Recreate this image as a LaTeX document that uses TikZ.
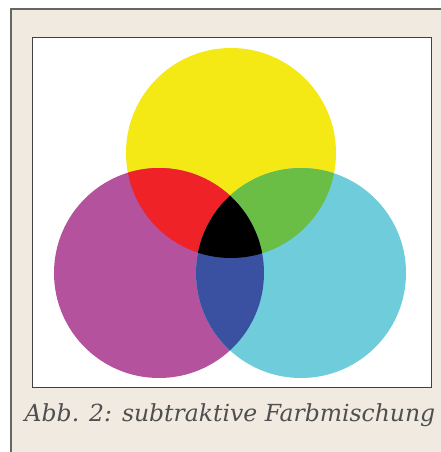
\documentclass[tikz,border=0pt]{standalone}
\usepackage{fontspec}
\setmainfont{DejaVu Serif}
\definecolor{papier}{HTML}{F0EAE1}
\definecolor{gelb}{HTML}{F4E815}
\definecolor{magenta}{HTML}{B5529E}
\definecolor{cyan}{HTML}{6ECCDB}
\definecolor{rot}{HTML}{EE2227}
\definecolor{gruen}{HTML}{6ABD45}
\definecolor{blau}{HTML}{3A50A1}
\definecolor{schrift}{HTML}{4F4F4F}
\tikzset{
  rahmen/.style={draw=black!60, line width=1.3pt},
  feld/.style={draw=black!75, fill=white, line width=0.9pt},
  kreis/.style={radius=105},
  unterschrift/.style={anchor=base, text=schrift, font=\itshape\fontsize{23.5}{26}\selectfont, inner sep=0pt},
}

\begin{document}
\begin{tikzpicture}[x=1pt,y=-1pt]
  \useasboundingbox (0,0) rectangle (441,452);
  % Hintergrund
  \fill[papier] (11,9) rectangle (441,452);
  \draw[rahmen] (11,452) -- (11,9) -- (441,9);
  \draw[feld] (32,37) rectangle (431,387);
  % Mittelpunkte der Farbkreise
  \coordinate (Y) at (231,153);
  \coordinate (M) at (159,273);
  \coordinate (C) at (301,273);
  \fill[gelb, kreis] (Y) circle[];
  \fill[magenta, kreis] (M) circle[];
  \fill[cyan, kreis] (C) circle[];
  % Mischfarben
  \begin{scope}
    \clip[kreis] (Y) circle[];
    \fill[rot, kreis] (M) circle[];
    \fill[gruen, kreis] (C) circle[];
  \end{scope}
  \begin{scope}
    \clip[kreis] (M) circle[];
    \fill[blau, kreis] (C) circle[];
    \clip[kreis] (Y) circle[];
    \fill[black, kreis] (C) circle[];
  \end{scope}
  \node[unterschrift] (caption) at (230,421) {Abb. 2: subtraktive Farbmischung};
\end{tikzpicture}
\end{document}
